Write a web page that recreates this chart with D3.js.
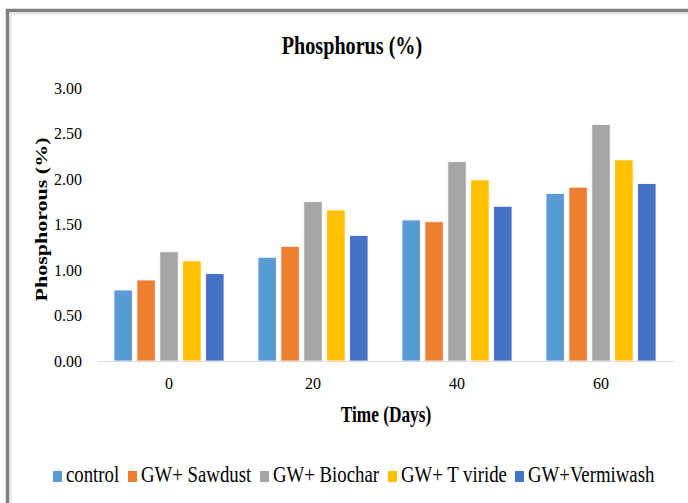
<!DOCTYPE html>
<html>
<head>
<meta charset="utf-8">
<script src="https://cdn.jsdelivr.net/npm/d3@7"></script>
<style>
  html, body { margin: 0; padding: 0; background: #fff; }
  svg { display: block; }
</style>
</head>
<body>
<svg id="chart" width="688" height="503"></svg>
<script>
// Sampling days and treatments
const days = ["0", "20", "40", "60"];
const seriesNames = ["control", "GW+ Sawdust", "GW+ Biochar", "GW+ T viride", "GW+Vermiwash"];
const seriesColors = ["#5b9bd5", "#ed7d31", "#a5a5a5", "#ffc000", "#4472c4"];

// Phosphorus (%) per treatment, one value per day
const control    = [0.78, 1.14, 1.55, 1.84];
const sawdust    = [0.89, 1.26, 1.53, 1.91];
const biochar    = [1.20, 1.75, 2.19, 2.60];
const tViride    = [1.10, 1.66, 1.99, 2.21];
const vermiwash  = [0.96, 1.38, 1.70, 1.95];

const yTicks = [0, 0.5, 1.0, 1.5, 2.0, 2.5, 3.0];

const SERIF = "'Liberation Serif', 'Times New Roman', serif";

const allSeries = [control, sawdust, biochar, tViride, vermiwash];
const rows = days.map((d, i) => ({
  day: d,
  values: seriesNames.map((name, k) => ({ name, color: seriesColors[k], value: allSeries[k][i] }))
}));

const svg = d3.select("#chart");

// outer frame (only top and left edges fall inside the view)
svg.append("rect").attr("x", 7.5).attr("y", 10.5).attr("width", 700).attr("height", 520)
  .attr("fill", "none").attr("stroke", "#808080").attr("stroke-width", 3.5);
svg.append("rect").attr("x", 10.5).attr("y", 13.5).attr("width", 700).attr("height", 520)
  .attr("fill", "none").attr("stroke", "#e3e3e3").attr("stroke-width", 2);

const plot = { left: 97, right: 673, top: 88, bottom: 361 };

const x0 = d3.scaleBand().domain(days).range([plot.left, plot.right]).paddingInner(0.236).paddingOuter(0.118);
const x1 = d3.scaleBand().domain(seriesNames).range([0, x0.bandwidth()]).paddingInner(0.2);
const y = d3.scaleLinear().domain([0, 3]).range([plot.bottom, plot.top]);

// bars
const g = svg.append("g");
g.selectAll("g.day").data(rows).join("g")
  .attr("class", "day")
  .attr("transform", d => `translate(${x0(d.day)},0)`)
  .selectAll("rect").data(d => d.values).join("rect")
  .attr("x", d => x1(d.name))
  .attr("width", x1.bandwidth())
  .attr("y", d => y(d.value))
  .attr("height", d => y(0) - y(d.value))
  .attr("fill", d => d.color)
  .attr("stroke", "#fff").attr("stroke-width", 0.8);

// baseline
svg.append("line")
  .attr("x1", plot.left).attr("x2", plot.right + 1)
  .attr("y1", y(0) + 0.5).attr("y2", y(0) + 0.5)
  .attr("stroke", "#d9d9d9").attr("stroke-width", 1.2);

// y axis labels
const yAxis = d3.axisLeft(y).tickValues(yTicks).tickFormat(d3.format(".2f")).tickSize(0).tickPadding(15);
const ya = svg.append("g").attr("transform", `translate(${plot.left},0)`).call(yAxis);
ya.select(".domain").remove();
ya.selectAll("text").style("font-family", SERIF).style("font-size", "16px").attr("fill", "#000");

// x axis labels
const xAxis = d3.axisBottom(x0).tickSize(0).tickPadding(17);
const xa = svg.append("g").attr("transform", `translate(0,${plot.bottom})`).call(xAxis);
xa.select(".domain").remove();
xa.selectAll("text").style("font-family", SERIF).style("font-size", "16px").attr("fill", "#000");

// titles (narrow set type)
svg.append("text").attr("transform", "translate(352,54) scale(0.79,1)").attr("text-anchor", "middle")
  .style("font-family", SERIF).style("font-size", "25.5px").style("font-weight", "bold")
  .attr("fill", "#000").text("Phosphorus (%)");

svg.append("text").attr("transform", "translate(386,422) scale(0.77,1)").attr("text-anchor", "middle")
  .style("font-family", SERIF).style("font-size", "22.5px").style("font-weight", "bold")
  .attr("fill", "#000").text("Time (Days)");

svg.append("text")
  .attr("transform", "translate(46.5,219.5) rotate(-90) scale(1,0.78)")
  .attr("text-anchor", "middle")
  .style("font-family", SERIF).style("font-size", "22px").style("font-weight", "bold")
  .attr("fill", "#000").text("Phosphorous (%)");

// legend
const legend = svg.append("g").attr("transform", "translate(0,482)");
const legendX = [53, 128, 260, 388, 515];
const items = legend.selectAll("g").data(seriesNames).join("g")
  .attr("transform", (d, i) => `translate(${legendX[i]},0)`);
items.append("rect").attr("x", 0).attr("y", -11).attr("width", 9).attr("height", 11)
  .attr("fill", (d, i) => seriesColors[i]);
items.append("text").attr("transform", "translate(13,0) scale(0.835,1)")
  .style("font-family", SERIF).style("font-size", "22.5px")
  .attr("fill", "#000").text(d => d);
</script>
</body>
</html>
